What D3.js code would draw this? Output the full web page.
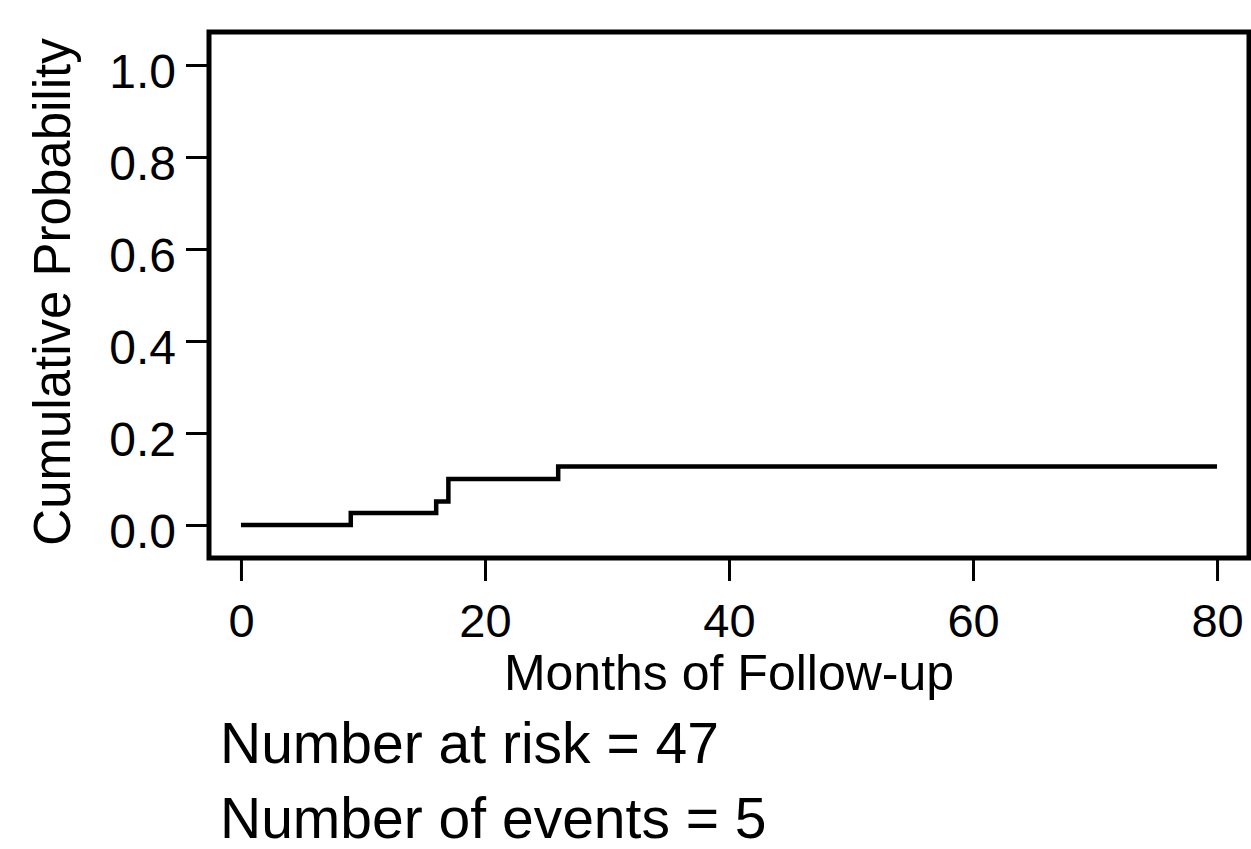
<!DOCTYPE html>
<html>
<head>
<meta charset="utf-8">
<script src="https://cdn.jsdelivr.net/npm/d3@7"></script>
<style>
  body { margin: 0; background: #fff; }
  svg text { font-family: "Liberation Sans", Arial, Helvetica, sans-serif; fill: #000; }
</style>
</head>
<body>
<div class="chart"></div>
<script>
// step data (months, cumulative probability)
const months = [0, 9, 16, 17, 26, 80];
const cumProb = [0, 0.026, 0.051, 0.100, 0.127, 0.127];

const xTicks = [0, 20, 40, 60, 80];
const yTicks = [0, 0.2, 0.4, 0.6, 0.8, 1.0];

const xTitle = "Months of Follow-up";
const yTitle = "Cumulative Probability";
const notes = ["Number at risk = 47", "Number of events = 5"];

const width = 1251, height = 849;
const box = {left: 209, top: 32, right: 1249, bottom: 558};

const svg = d3.select(".chart").append("svg")
    .attr("width", width)
    .attr("height", height);

// scales
const x = d3.scaleLinear()
    .domain([-2.62, 82.62])
    .range([box.left, box.right]);

const y = d3.scaleLinear()
    .domain([-0.0717, 1.0717])
    .range([box.bottom, box.top]);

// axes
const yAxis = d3.axisLeft(y)
    .tickValues(yTicks)
    .tickFormat(d3.format(".1f"))
    .tickSize(23)
    .tickPadding(10);

const xAxis = d3.axisBottom(x)
    .tickValues(xTicks)
    .tickFormat(d3.format("d"))
    .tickSize(23);

const gy = svg.append("g")
    .attr("transform", `translate(${box.left},0)`)
    .call(yAxis);
gy.select(".domain").remove();
gy.selectAll(".tick line").attr("stroke", "#000").attr("stroke-width", 3);
gy.selectAll(".tick text")
    .attr("font-size", 48)
    .attr("dy", "0.46em");

const gx = svg.append("g")
    .attr("transform", `translate(0,${box.bottom})`)
    .call(xAxis);
gx.select(".domain").remove();
gx.selectAll(".tick line").attr("stroke", "#000").attr("stroke-width", 3);
gx.selectAll(".tick text")
    .attr("font-size", 47)
    .attr("y", 79)
    .attr("dy", 0);

// plot frame
svg.append("rect")
    .attr("x", box.left)
    .attr("y", box.top)
    .attr("width", box.right - box.left)
    .attr("height", box.bottom - box.top)
    .attr("fill", "none")
    .attr("stroke", "#000")
    .attr("stroke-width", 5);

// cumulative incidence step curve
const points = months.map((m, i) => [m, cumProb[i]]);
const line = d3.line()
    .x(d => x(d[0]))
    .y(d => y(d[1]))
    .curve(d3.curveStepAfter);

svg.append("path")
    .datum(points)
    .attr("d", line)
    .attr("fill", "none")
    .attr("stroke", "#000")
    .attr("stroke-width", 4.5);

// axis titles
svg.append("text")
    .attr("x", (box.left + box.right) / 2)
    .attr("y", 690)
    .attr("text-anchor", "middle")
    .attr("font-size", 50)
    .text(xTitle);

svg.append("text")
    .attr("transform", `translate(70,${(box.top + box.bottom) / 2 - 3}) rotate(-90)`)
    .attr("text-anchor", "middle")
    .attr("font-size", 51)
    .text(yTitle);

// summary lines under the plot
svg.selectAll(".note")
    .data(notes)
    .enter().append("text")
    .attr("class", "note")
    .attr("x", 220)
    .attr("y", (d, i) => 763 + i * 75)
    .attr("font-size", 57)
    .text(d => d);
</script>
</body>
</html>
